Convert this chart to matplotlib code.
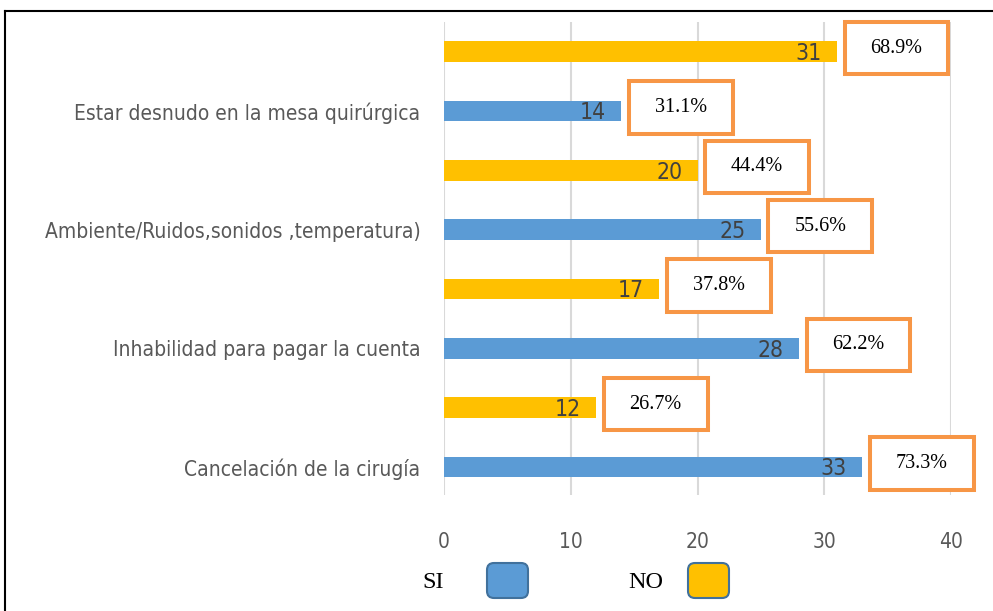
import matplotlib
matplotlib.use("Agg")
import matplotlib.pyplot as plt
from matplotlib import font_manager as fm
from matplotlib.patches import Rectangle, FancyBboxPatch
from matplotlib.lines import Line2D

categories = ["Cancelación de la cirugía",
              "Inhabilidad para pagar la cuenta",
              "Ambiente/Ruidos,sonidos ,temperatura)",
              "Estar desnudo en la mesa quirúrgica"]
si = [33, 28, 25, 14]
no = [12, 17, 20, 31]
si_pct = ["73.3%", "62.2%", "55.6%", "31.1%"]
no_pct = ["26.7%", "37.8%", "44.4%", "68.9%"]
xticks = [0, 10, 20, 30, 40]

BLUE = "#5B9BD5"
YELLOW = "#FFC000"
ORANGE = "#F79646"
GREY = "#595959"

# pick a narrow sans font if one is installed
names = {f.name for f in fm.fontManager.ttflist}
if "Liberation Sans Narrow" in names:
    sans = dict(family="Liberation Sans Narrow")
    size = 18.5
elif any(f.name == "DejaVu Sans" and f.stretch == "condensed" for f in fm.fontManager.ttflist):
    sans = dict(family="DejaVu Sans", stretch="condensed")
    size = 15
else:
    sans = dict(family="Liberation Sans")
    size = 14
serif = dict(family="Liberation Serif")

W, H = 993, 611
fig = plt.figure(figsize=(W / 100, H / 100), dpi=100)
ax = fig.add_axes([444 / W, 1 - 495 / H, (951 - 444) / W, (495 - 22) / H])

y_si = [2 * i for i in range(len(categories))]
y_no = [2 * i + 1 for i in range(len(categories))]
h = 0.35

ax.barh(y_si, si, height=h, color=BLUE, zorder=2)
ax.barh(y_no, no, height=h, color=YELLOW, zorder=2)

bw, bh = 8.2, 0.88
for ys, vals, pcts in [(y_si, si, si_pct), (y_no, no, no_pct)]:
    for y, v, p in zip(ys, vals, pcts):
        ax.text(v - 1.2, y - 0.03, str(v), ha="right", va="center", color="#404040",
                fontsize=size + 1.5, zorder=3, **sans)
        x0 = v + 0.6
        ax.add_patch(Rectangle((x0, y - bh / 2 + 0.06), bw, bh, facecolor="white",
                               edgecolor=ORANGE, lw=2.9, clip_on=False, zorder=4))
        ax.text(x0 + bw / 2, y + 0.06, p, ha="center", va="center", color="black",
                fontsize=14.5, zorder=5, **serif)

ax.set_xlim(0, 40)
ax.set_ylim(-0.47, 7.5)
ax.set_xticks(xticks)
ax.set_xticklabels([str(t) for t in xticks], color=GREY, fontsize=size, **sans)
ax.set_yticks(y_si)
ax.set_yticklabels(categories, color=GREY, fontsize=size, **sans)
ax.tick_params(axis="x", length=0, pad=27)
ax.tick_params(axis="y", length=0, pad=17)
ax.xaxis.grid(True, color="#D9D9D9", lw=1.5, zorder=0)
ax.set_axisbelow(True)
for s in ax.spines.values():
    s.set_visible(False)

# legend drawn by hand: label then rounded swatch
asp = W / H
for label, color, tx, bx in [("SI", BLUE, 433, 487), ("NO", YELLOW, 646, 688)]:
    fig.text(tx / W, 1 - 583 / H, label, ha="center", va="center", fontsize=17.5,
             color="black", **serif)
    fig.add_artist(FancyBboxPatch((bx / W, 1 - 598 / H), 41 / W, 35 / H,
                                  boxstyle="round,pad=0,rounding_size=0.007",
                                  mutation_aspect=asp, transform=fig.transFigure,
                                  facecolor=color, edgecolor="#41719C", lw=1.5))

# outer frame
fig.add_artist(Line2D([5 / W, 5 / W], [0, 1 - 11 / H], transform=fig.transFigure,
                      color="black", lw=1.5))
fig.add_artist(Line2D([5 / W, 1], [1 - 11 / H, 1 - 11 / H], transform=fig.transFigure,
                      color="black", lw=1.5))

fig.savefig("out.png", dpi=100)
